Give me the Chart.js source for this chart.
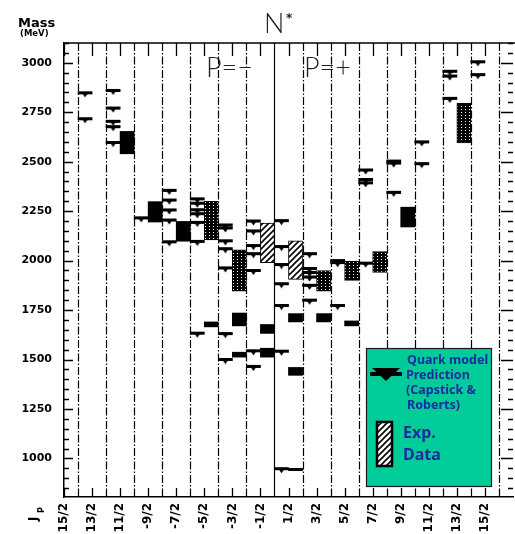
<!DOCTYPE html>
<html>
<head>
<meta charset="utf-8">
<script src="https://cdn.jsdelivr.net/npm/chart.js@4.4.0/dist/chart.umd.min.js"></script>
<style>
  html, body { margin: 0; padding: 0; background: #fff; overflow: hidden; }
  #wrap { width: 515px; height: 534px; overflow: hidden; }
</style>
</head>
<body>
<div id="wrap"><canvas id="nstar" width="518" height="534"></canvas></div>
<script>
// J^P columns, left block is P = -, right block is P = +
const jpLabels = ['15/2', '13/2', '11/2', '-9/2', '-7/2', '-5/2', '-3/2', '-1/2',
                  '1/2', '3/2', '5/2', '7/2', '9/2', '11/2', '13/2', '15/2'];
const yTickValues = [1000, 1250, 1500, 1750, 2000, 2250, 2500, 2750, 3000];

// Quark model predictions (MeV), one list per column
const predMass = [
    [],
    [2848, 2717],
    [2860, 2771, 2704, 2677, 2597],
    [2216],
    [2355, 2306, 2256, 2205, 2095],
    [2312, 2290, 2257, 2237, 2193, 2097, 1633],
    [2180, 2165, 2100, 2060, 1963, 1631, 1500],
    [2200, 2150, 2076, 2035, 1950, 1544, 1465],
    [2202, 2071, 1980, 1883, 1773, 1542, 948],
    [2035, 1960, 1940, 1917, 1875, 1800],
    [2000, 1990, 1773],
    [2458, 2410, 2393, 1987],
    [2503, 2493, 2345],
    [2600, 2490],
    [2957, 2933, 2820],
    [3005, 2940]
];

// Experimental mass ranges (column index, low, high)
const solidCol = [2, 3, 4, 5, 6, 6, 7, 7, 8, 8, 8, 9, 10, 12];
const solidLo  = [2540, 2195, 2098, 1665, 1670, 1512, 1632, 1512, 1690, 1420, 938, 1690, 1670, 2170];
const solidHi  = [2653, 2298, 2198, 1690, 1735, 1537, 1677, 1557, 1732, 1460, 950, 1732, 1695, 2270];

const dotCol = [5, 6, 9, 10, 11, 14];
const dotLo  = [2105, 1845, 1845, 1900, 1940, 2595];
const dotHi  = [2300, 2055, 1950, 1997, 2045, 2795];

const hatchCol = [7, 8];
const hatchLo  = [1990, 1905];
const hatchHi  = [2190, 2100];

// Column separators
const dividers = [0.5, 1.5, 2.5, 3.5, 4.5, 5.5, 6.5, 7.5, 8.5, 9.5, 10.5, 11.5, 12.5, 13.5, 14.5, 15.5];
const parityDivider = 7.5;

// Patterns for the boxes
const makeDots = () => {
    const c = document.createElement('canvas');
    c.width = 4; c.height = 3;
    const g = c.getContext('2d');
    g.fillStyle = '#000'; g.fillRect(0, 0, 4, 3);
    g.fillStyle = '#fff'; g.fillRect(1, 1, 1, 1);
    return g.createPattern(c, 'repeat');
};
const makeHatch = () => {
    const c = document.createElement('canvas');
    c.width = 6; c.height = 6;
    const g = c.getContext('2d');
    g.fillStyle = '#fff'; g.fillRect(0, 0, 6, 6);
    g.strokeStyle = '#000'; g.lineWidth = 1.6;
    g.beginPath();
    g.moveTo(-1, 7); g.lineTo(7, -1);
    g.moveTo(-1, 1); g.lineTo(1, -1);
    g.moveTo(5, 7); g.lineTo(7, 5);
    g.stroke();
    return g.createPattern(c, 'repeat');
};
// Triangle hanging under the prediction line (image is centred on the point)
const makeTriangle = () => {
    const c = document.createElement('canvas');
    c.width = 7; c.height = 10;
    const g = c.getContext('2d');
    g.fillStyle = '#000';
    g.beginPath();
    g.moveTo(0, 4.5); g.lineTo(7, 4.5); g.lineTo(3.5, 9.5); g.closePath();
    g.fill();
    return c;
};
const dotPattern = makeDots();
const hatchPattern = makeHatch();
const triangleMark = makeTriangle();

// Predictions sit in the left half of a column, data in the right half
const boxData = (cols, lo, hi) => cols.map((c, i) => ({ x: c + 0.25, y: [lo[i], hi[i]] }));
const predLines = [];
const predMarks = [];
predMass.forEach((list, c) => list.forEach(m => {
    predLines.push({ x: c - 0.25, y: [m - 6, m + 6] });
    predMarks.push({ x: c - 0.25, y: m });
}));

const halfCol = 14.1;

const frameDecor = {
    id: 'frameDecor',
    beforeDatasetsDraw(chart) {
        const { ctx, chartArea: a, scales: { x, y } } = chart;
        ctx.save();
        ctx.strokeStyle = '#000';
        ctx.lineWidth = 1.2;
        dividers.forEach(d => {
            const px = Math.round(x.getPixelForValue(d)) + 0.5;
            ctx.setLineDash(d === parityDivider ? [] : [8, 2, 1.5, 2]);
            ctx.beginPath();
            ctx.moveTo(px, a.top);
            ctx.lineTo(px, a.bottom);
            ctx.stroke();
        });
        ctx.setLineDash([]);

        // top frame
        ctx.lineWidth = 1.5;
        ctx.beginPath();
        ctx.moveTo(a.left, a.top); ctx.lineTo(a.right + 2, a.top);
        ctx.stroke();

        // x ticks (inside, top and bottom)
        ctx.lineWidth = 1.3;
        jpLabels.forEach((_, i) => {
            const px = Math.round(x.getPixelForValue(i)) + 0.5;
            ctx.beginPath();
            ctx.moveTo(px, a.top); ctx.lineTo(px, a.top + 13);
            ctx.moveTo(px, a.bottom); ctx.lineTo(px, a.bottom - 9);
            ctx.stroke();
        });

        // y ticks, major every 250, minor every 50
        for (let v = 850; v <= 3100; v += 50) {
            const py = Math.round(y.getPixelForValue(v)) + 0.5;
            const major = v % 250 === 0;
            ctx.beginPath();
            ctx.moveTo(a.left, py); ctx.lineTo(a.left + (major ? 9 : 5), py);
            ctx.moveTo(a.right, py); ctx.lineTo(a.right - (major ? 12 : 5), py);
            ctx.stroke();
        }

        // titles
        ctx.fillStyle = '#222';
        ctx.textBaseline = 'alphabetic';
        ctx.textAlign = 'left';
        ctx.font = '300 27px Lato, "Liberation Sans", sans-serif';
        ctx.fillText('N', 264, 33);
        ctx.fillText('P=\u2212', 206, 77);
        ctx.fillText('P=+', 304, 77);
        ctx.font = 'bold 12px "DejaVu Sans"';
        ctx.fillText('*', 286, 22);

        ctx.fillStyle = '#000';
        ctx.font = 'bold 13px "DejaVu Sans"';
        ctx.fillText('Mass', 18, 27);
        ctx.font = 'bold 8.5px "DejaVu Sans"';
        ctx.fillText('(MeV)', 20, 36);

        // J^P axis name, rotated like the tick labels
        ctx.save();
        ctx.translate(37, 521);
        ctx.rotate(-Math.PI / 2);
        ctx.font = 'bold 12px "DejaVu Sans"';
        ctx.fillText('J', 0, 0);
        ctx.font = 'bold 8px "DejaVu Sans"';
        ctx.fillText('P', 8, 6.5);
        ctx.restore();
        ctx.restore();
    },
    afterDraw(chart) {
        const { ctx } = chart;
        ctx.save();
        ctx.fillStyle = '#00cc99';
        ctx.fillRect(366, 348, 126, 139);
        ctx.strokeStyle = '#1a1a1a';
        ctx.lineWidth = 1.2;
        ctx.strokeRect(366.5, 348.5, 125, 138);

        // prediction symbol
        ctx.fillStyle = '#000';
        ctx.beginPath();
        ctx.moveTo(372, 368); ctx.lineTo(400, 368); ctx.lineTo(386, 381); ctx.closePath();
        ctx.fill();
        ctx.fillRect(370, 372, 32, 4);

        // data symbol
        ctx.fillStyle = hatchPattern;
        ctx.fillRect(377, 422, 15, 44);
        ctx.strokeStyle = '#000';
        ctx.lineWidth = 2.5;
        ctx.strokeRect(377, 422, 15, 44);

        ctx.fillStyle = '#1c2c9c';
        ctx.font = 'bold 12.5px "Noto Sans"';
        ctx.fillText('Quark model', 407, 364);
        ctx.fillText('Prediction', 406, 379);
        ctx.fillText('(Capstick &', 406, 394);
        ctx.fillText('Roberts)', 407, 409);
        ctx.font = 'bold 16px "Noto Sans"';
        ctx.fillText('Exp.', 403, 438);
        ctx.fillText('Data', 403, 460);
        ctx.restore();
    }
};

const barCommon = { type: 'bar', barThickness: halfCol, grouped: false, borderSkipped: false };

new Chart(document.getElementById('nstar'), {
    type: 'bar',
    data: {
        datasets: [
            {
                type: 'scatter', label: 'Prediction mark', data: predMarks, showLine: false,
                pointStyle: triangleMark, pointRadius: 4, pointHoverRadius: 4, order: 0
            },
            { ...barCommon, label: 'Prediction', data: predLines, backgroundColor: '#000', order: 2 },
            { ...barCommon, label: 'Data', data: boxData(solidCol, solidLo, solidHi), backgroundColor: '#000', order: 3 },
            {
                ...barCommon, label: 'Data dotted', data: boxData(dotCol, dotLo, dotHi),
                backgroundColor: dotPattern, borderColor: '#000', borderWidth: 1, order: 3
            },
            {
                ...barCommon, label: 'Data hatched', data: boxData(hatchCol, hatchLo, hatchHi),
                backgroundColor: hatchPattern, borderColor: '#000', borderWidth: 1, order: 3
            }
        ]
    },
    options: {
        responsive: false,
        animation: false,
        layout: { padding: { top: 43, right: 2, left: 0, bottom: 0 } },
        plugins: { legend: { display: false }, tooltip: { enabled: false } },
        scales: {
            x: {
                type: 'linear', min: 0, max: 16, offset: false,
                grid: { display: false, drawTicks: false },
                border: { display: true, color: '#000', width: 1.5 },
                afterBuildTicks: s => { s.ticks = jpLabels.map((_, i) => ({ value: i })); },
                afterFit: s => { s.height = 37; },
                ticks: {
                    autoSkip: false, minRotation: 90, maxRotation: 90, padding: 6,
                    color: '#000', font: { family: 'DejaVu Sans', size: 12, weight: 'bold' },
                    callback: (v, i) => jpLabels[i]
                }
            },
            y: {
                type: 'linear', min: 805, max: 3100,
                grid: { display: false, drawTicks: false },
                border: { display: true, color: '#000', width: 1.5 },
                afterBuildTicks: s => { s.ticks = yTickValues.map(v => ({ value: v })); },
                afterFit: s => { s.width = 64; },
                ticks: {
                    padding: 12, color: '#000',
                    font: { family: 'DejaVu Sans', size: 11, weight: 'bold' },
                    callback: v => String(v)
                }
            }
        }
    },
    plugins: [frameDecor]
});
</script>
</body>
</html>
